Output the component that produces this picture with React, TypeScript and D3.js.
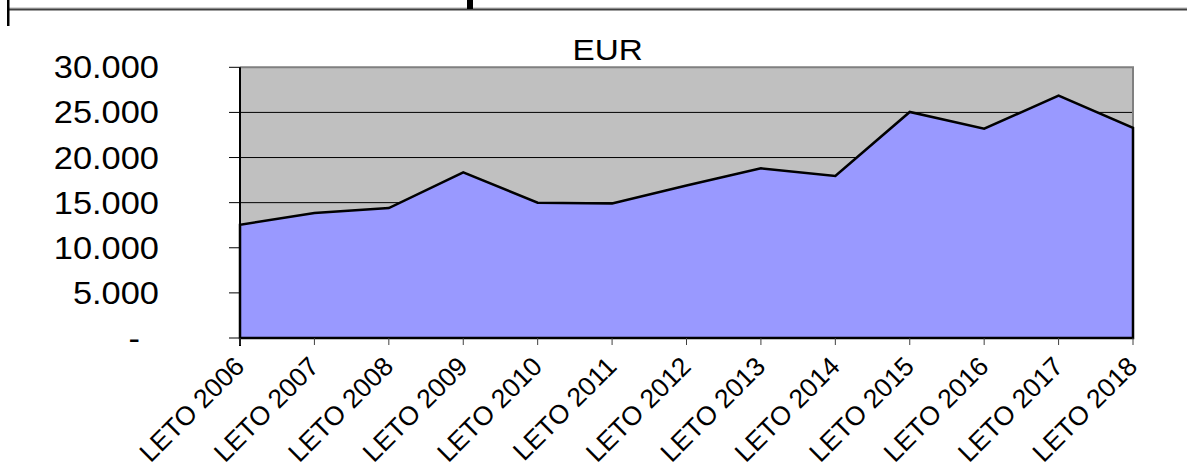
import React, { useEffect, useRef } from "react";
import * as d3 from "d3";

const categories = ["LETO 2006","LETO 2007","LETO 2008","LETO 2009","LETO 2010","LETO 2011","LETO 2012","LETO 2013","LETO 2014","LETO 2015","LETO 2016","LETO 2017","LETO 2018"];
const values = [12550, 13850, 14400, 18350, 15000, 14900, 16900, 18800, 17950, 25050, 23200, 26850, 23300];
const yTicks = [0, 5000, 10000, 15000, 20000, 25000, 30000];
const title = "EUR";

const W = 1187, H = 468;
const m = { left: 240, right: 1133, top: 67.3, bottom: 338 };
const SX = 1.11;
const FONT = "'Liberation Sans', Arial, sans-serif";

export default function App() {
  const ref = useRef<SVGSVGElement>(null);
  useEffect(() => {
    const svg = d3.select(ref.current);
    svg.selectAll("*").remove();
    const x = d3.scalePoint<string>().domain(categories).range([m.left, m.right]);
    const y = d3.scaleLinear().domain([0, 30000]).range([m.bottom, m.top]);

    // top decoration
    svg.append("line").attr("x1", 8).attr("x2", W).attr("y1", 8).attr("y2", 8).attr("stroke", "#b0b0b0").attr("stroke-width", 1);
    svg.append("line").attr("x1", 8).attr("x2", W).attr("y1", 9.5).attr("y2", 9.5).attr("stroke", "#404040").attr("stroke-width", 2);
    svg.append("rect").attr("x", 7).attr("y", 0).attr("width", 2.5).attr("height", 26).attr("fill", "#000");
    svg.append("rect").attr("x", 467).attr("y", 0).attr("width", 6).attr("height", 9).attr("fill", "#000");

    // plot background
    svg.append("rect").attr("x", m.left).attr("y", m.top).attr("width", m.right - m.left).attr("height", m.bottom - m.top).attr("fill", "#c0c0c0");
    // gridlines
    svg.append("g").selectAll("line").data(yTicks.filter(t => t > 0 && t < 30000)).join("line")
      .attr("x1", m.left).attr("x2", m.right).attr("y1", d => y(d)).attr("y2", d => y(d))
      .attr("stroke", "#000").attr("stroke-width", 1);
    // plot border top/right gray
    svg.append("path").attr("d", `M${m.left},${m.top}H${m.right}V${m.bottom}`).attr("fill", "none").attr("stroke", "#808080").attr("stroke-width", 2);

    // area
    const area = d3.area<number>().x((d, i) => x(categories[i])!).y0(y(0)).y1(d => y(d));
    const pts = values.map((v, i) => [x(categories[i])!, y(v)] as [number, number]);
    svg.append("path").attr("d", area(values)!).attr("fill", "#9999ff");
    const outline = d3.line()([[m.left, y(0)], ...pts, [m.right, y(0)]]);
    svg.append("path").attr("d", outline! + "Z").attr("fill", "none").attr("stroke", "#000").attr("stroke-width", 2.5).attr("stroke-linejoin", "miter");

    // y axis
    svg.append("line").attr("x1", m.left).attr("x2", m.left).attr("y1", m.top).attr("y2", m.bottom + 8).attr("stroke", "#000").attr("stroke-width", 2);
    svg.append("g").selectAll("line").data(yTicks).join("line")
      .attr("x1", m.left - 11).attr("x2", m.left).attr("y1", d => y(d)).attr("y2", d => y(d))
      .attr("stroke", "#000").attr("stroke-width", 1);
    const fmt = (d: number) => d === 0 ? "-" : d3.format(",")(d).replace(/,/g, ".");
    svg.append("g").selectAll("text").data(yTicks).join("text")
      .attr("transform", d => `translate(${d === 0 ? 140 : 159},${y(d) + 11}) scale(${SX},1)`)
      .attr("text-anchor", "end").attr("font-family", FONT).attr("font-size", 31).attr("fill", "#000")
      .text(d => fmt(d));

    // x axis
    svg.append("line").attr("x1", m.left).attr("x2", m.right).attr("y1", m.bottom).attr("y2", m.bottom).attr("stroke", "#000").attr("stroke-width", 2);
    svg.append("g").selectAll("line").data(categories).join("line")
      .attr("x1", d => x(d)!).attr("x2", d => x(d)!).attr("y1", m.bottom).attr("y2", m.bottom + 7)
      .attr("stroke", "#404040").attr("stroke-width", 1);
    svg.append("g").selectAll("text").data(categories).join("text")
      .attr("transform", d => `translate(${x(d)! + 6},${m.bottom + 30}) rotate(-45)`)
      .attr("text-anchor", "end").attr("font-family", FONT).attr("font-size", 26.5).attr("fill", "#000")
      .text(d => d);

    // title
    svg.append("text").attr("transform", `translate(607.7,60) scale(${SX},1)`).attr("text-anchor", "middle")
      .attr("font-family", FONT).attr("font-size", 30).attr("fill", "#000").text(title);
  }, []);
  return (
    <svg ref={ref} width={W} height={H} style={{ position: "absolute", left: 0, top: 0, background: "#fff" }} />
  );
}
